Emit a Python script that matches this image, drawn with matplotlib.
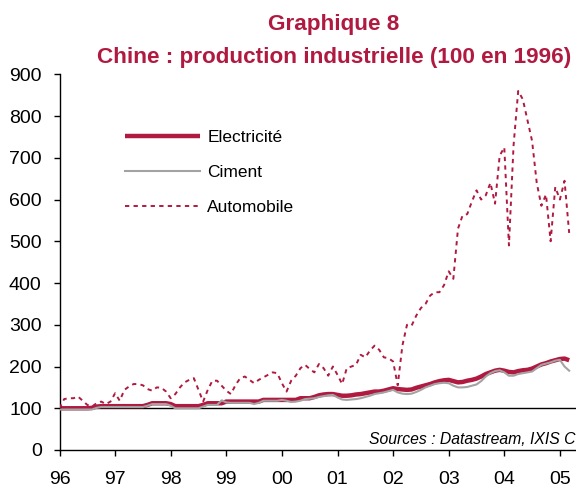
import matplotlib
matplotlib.use("Agg")
import matplotlib.pyplot as plt
import numpy as np

plt.rcParams['font.family'] = ['Liberation Sans', 'DejaVu Sans']

# Monthly index values (100 = 1996), January 1996 to March 2005
start_year = 1996
electricite = [
    100, 100, 100, 100, 100, 100, 100, 101, 104, 105, 105, 105,
    105, 105, 105, 105, 105, 105, 105, 108, 112, 112, 112, 112,
    110, 105, 105, 105, 105, 105, 105, 108, 112, 112, 112, 112,
    116, 116, 116, 116, 116, 116, 116, 116, 120, 120, 120, 120,
    120, 120, 120, 120, 124, 124, 124, 127, 131, 133, 134, 134,
    132, 130, 130, 131, 133, 134, 136, 138, 140, 140, 142, 145,
    148, 146, 145, 144, 145, 149, 152, 155, 158, 162, 165, 167,
    168, 165, 162, 163, 166, 168, 171, 176, 182, 186, 190, 192,
    190, 187, 186, 189, 191, 192, 195, 200, 205, 208, 212, 215,
    218, 219, 215,
]
ciment = [
    97, 97, 97, 97, 97, 97, 97, 97, 101, 103, 103, 103,
    103, 103, 103, 103, 103, 103, 103, 106, 110, 110, 110, 110,
    106, 100, 100, 100, 100, 100, 100, 104, 108, 108, 108, 119,
    114, 113, 113, 113, 113, 113, 110, 113, 118, 118, 118, 118,
    120, 118, 115, 116, 118, 122, 123, 124, 127, 129, 131, 132,
    126, 121, 120, 121, 122, 124, 127, 130, 134, 136, 138, 141,
    144, 138, 135, 134, 135, 139, 144, 150, 154, 158, 160, 161,
    160, 154, 150, 150, 151, 154, 157, 165, 176, 184, 189, 191,
    186, 178, 178, 182, 184, 186, 188, 196, 204, 207, 210, 214,
    216, 200, 190,
]
automobile = [
    100, 122, 124, 124, 128, 118, 108, 104, 112, 116, 110, 116,
    136, 118, 144, 152, 158, 158, 155, 146, 142, 150, 149, 140,
    124, 134, 150, 162, 168, 172, 144, 116, 144, 166, 166, 154,
    142, 134, 156, 172, 176, 168, 160, 168, 174, 180, 186, 184,
    160, 140, 166, 178, 196, 204, 194, 186, 206, 196, 178, 200,
    180, 158, 196, 200, 204, 228, 222, 238, 250, 240, 222, 220,
    212, 155, 250, 300, 298, 322, 340, 350, 370, 378, 378, 395,
    428, 410, 530, 562, 565, 595, 622, 600, 610, 640, 590, 705,
    725, 490, 730, 860, 840, 790, 740, 640, 585, 612, 500, 630,
    600, 645, 520,
]
year_ticks = list(range(1996, 2006))
year_labels = ['96', '97', '98', '99', '00', '01', '02', '03', '04', '05']
y_ticks = list(range(0, 1000, 100))

titre_1 = "Graphique 8"
titre_2 = "Chine : production industrielle (100 en 1996)"
source = "Sources : Datastream, IXIS CIB"

red = '#B01A40'
grey = '#A3A3A3'

months = np.arange(len(electricite))
x = start_year + months / 12.0

W, H = 576, 491
fig = plt.figure(figsize=(W / 100, H / 100), dpi=100)
ax = fig.add_axes([59.5 / W, (H - 450) / H, 516.5 / W, (450 - 74.3) / H])

ax.axhline(100, color='black', lw=1.0, zorder=1.5)
ax.plot(x, electricite, color=red, lw=3.2, label='Electricité',
        solid_capstyle='butt', zorder=2)
ax.plot(x, ciment, color=grey, lw=1.5, label='Ciment', zorder=3)
ax.plot(x, automobile, color=red, lw=1.4, linestyle=(0, (2.2, 2.2)),
        label='Automobile', zorder=4)

ax.set_xlim(start_year, start_year + 516.5 / 55.6)
ax.set_ylim(0, 900)
ax.set_xticks(year_ticks)
ax.set_xticklabels(year_labels)
ax.set_yticks(y_ticks)

for s in ('top', 'right'):
    ax.spines[s].set_visible(False)
for s in ('left', 'bottom'):
    ax.spines[s].set_linewidth(1.0)
    ax.spines[s].set_color('black')

ax.tick_params(axis='both', direction='out', length=4.3, width=1.0,
               labelsize=14, colors='black')
ax.tick_params(axis='y', pad=8.5)
ax.tick_params(axis='x', pad=11.0)

# Source note: x in axes fraction, y in data units
ax.text(0.599, 25, source, transform=ax.get_yaxis_transform(),
        fontsize=11.3, style='italic', va='center', ha='left', clip_on=True)

leg = ax.legend(loc='upper left', bbox_to_anchor=(125 / W, 1 - 130 / H),
                bbox_transform=fig.transFigure, frameon=False,
                fontsize=12.5, handlelength=4.3, handletextpad=0.45,
                labelspacing=1.15, borderpad=0, borderaxespad=0)

fig.text(334 / W, 1 - 24.6 / H, titre_1, color=red, fontsize=16.2,
         fontweight='bold', ha='center', va='center')
fig.text(334 / W, 1 - 57.7 / H, titre_2, color=red, fontsize=16.2,
         fontweight='bold', ha='center', va='center')

fig.savefig('out.png', dpi=100)
